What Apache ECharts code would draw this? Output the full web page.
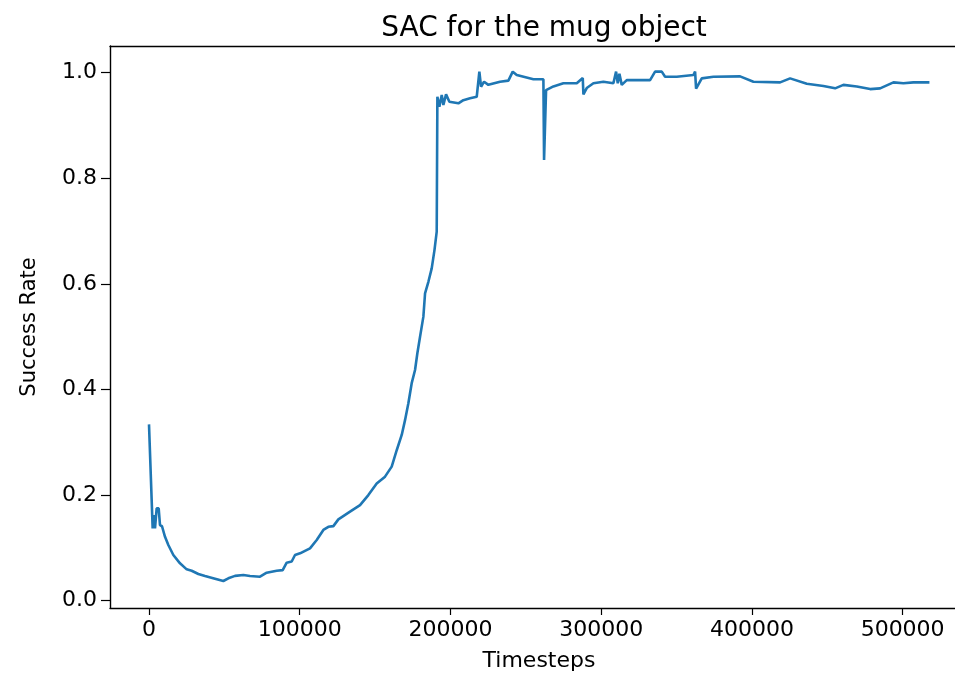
<!DOCTYPE html>
<html>
<head>
<meta charset="utf-8">
<title>SAC for the mug object</title>
<script src="https://cdn.jsdelivr.net/npm/echarts@6/dist/echarts.min.js"></script>
<style>
  html, body { margin: 0; padding: 0; background: #fff; overflow: hidden; }
  /* plot continues past the right edge of the window, like the cropped reference */
  #main { width: 968px; height: 673px; }
</style>
</head>
<body>
<div id="main"></div>
<script>
// timesteps (x) and success rate (y)
var timesteps = [
  0, 2430, 3540, 3980, 5090, 6420, 7300, 8630, 10620, 12830,
  16150, 20570, 25000, 28310, 32740, 37160, 43800, 49320, 52640, 57070,
  62600, 67020, 73660, 78080, 84720, 88700, 91350, 94680, 96880, 100200,
  106830, 111270, 115680, 119000, 122320, 125640, 133380, 140010, 145540, 151070,
  156600, 161030, 164350, 167670, 169870, 172080, 174290, 176510, 178050, 179830,
  182040, 183150, 185360, 187570, 189400, 190890, 191330, 192650, 194220, 195310,
  197080, 199290, 205270, 208560, 213000, 217440, 219180, 220300, 222300, 225160,
  232910, 238440, 241320, 243990, 255030, 261660, 262110, 263440, 268300, 274930,
  283800, 287780, 288220, 290430, 294850, 301480, 308110, 309890, 311000, 312100,
  313650, 316970, 332450, 335770, 340200, 342400, 350150, 361180, 362310, 362970,
  366740, 374460, 392170, 401000, 418710, 425350, 436430, 447450, 455210, 460720,
  469610, 478430, 485070, 493900, 500530, 507170, 517780
];
var successRate = [
  0.334, 0.137, 0.162, 0.137, 0.175, 0.175, 0.143, 0.141, 0.121, 0.1055,
  0.0866, 0.0708, 0.0594, 0.0568, 0.0506, 0.0468, 0.0417, 0.0373, 0.0424, 0.047,
  0.0487, 0.0468, 0.0455, 0.053, 0.0568, 0.058, 0.072, 0.0742, 0.0866, 0.0898,
  0.0992, 0.115, 0.134, 0.140, 0.1413, 0.154, 0.1686, 0.181, 0.200, 0.222,
  0.235, 0.254, 0.285, 0.314, 0.342, 0.374, 0.412, 0.437, 0.4686, 0.500,
  0.538, 0.582, 0.604, 0.6295, 0.664, 0.699, 0.9545, 0.9356, 0.958, 0.939,
  0.959, 0.945, 0.942, 0.948, 0.9515, 0.9545, 1.002, 0.9735, 0.983, 0.977,
  0.983, 0.985, 1.002, 0.9956, 0.9875, 0.9875, 0.8347, 0.967, 0.974, 0.980,
  0.980, 0.990, 0.959, 0.971, 0.980, 0.983, 0.980, 1.002, 0.980, 0.998,
  0.977, 0.986, 0.986, 1.002, 1.002, 0.9924, 0.9924, 0.9956, 1.002, 0.970,
  0.9893, 0.9924, 0.993, 0.983, 0.9817, 0.9893, 0.979, 0.975, 0.9704, 0.977,
  0.974, 0.969, 0.9704, 0.9817, 0.980, 0.9817, 0.9817
];
var xTicks = [0, 100000, 200000, 300000, 400000, 500000];
var yTicks = [0, 0.2, 0.4, 0.6, 0.8, 1.0];

var points = timesteps.map(function (t, i) { return [t, successRate[i]]; });

var font = "DejaVu Sans";
var xMin = -25875, xMax = 543375;
var chart = echarts.init(document.getElementById("main"));
chart.setOption({
  animation: false,
  textStyle: { fontFamily: font, color: "#000" },
  title: {
    text: "SAC for the mug object",
    left: 539,
    textAlign: "center",
    top: 10,
    textStyle: { fontFamily: font, fontSize: 28, fontWeight: "normal", color: "#000" }
  },
  grid: {
    left: 110,
    right: 0,
    top: 46,
    bottom: 65,
    outerBoundsMode: "none",
    containLabel: false
  },
  xAxis: [
    {
      type: "value",
      min: xMin,
      max: xMax,
      name: "Timesteps",
      nameLocation: "middle",
      nameGap: 42,
      nameTextStyle: { fontFamily: font, fontSize: 22, color: "#000" },
      axisLine: { show: true, onZero: false, lineStyle: { color: "#000", width: 1.4 } },
      axisTick: { show: true, length: 7, customValues: xTicks, lineStyle: { color: "#000", width: 1.2 } },
      axisLabel: {
        customValues: xTicks,
        margin: 11,
        fontFamily: font,
        fontSize: 22,
        color: "#000",
        formatter: function (v) { return String(v); }
      },
      splitLine: { show: false }
    },
    {
      // top spine only
      type: "value",
      position: "top",
      min: xMin,
      max: xMax,
      axisLine: { show: true, onZero: false, lineStyle: { color: "#000", width: 1.4 } },
      axisTick: { show: false },
      axisLabel: { show: false },
      splitLine: { show: false }
    }
  ],
  yAxis: {
    type: "value",
    min: -0.0138,
    max: 1.0506,
    name: "Success Rate",
    nameLocation: "middle",
    nameGap: 70,
    nameRotate: 90,
    nameTextStyle: { fontFamily: font, fontSize: 21, color: "#000" },
    axisLine: { show: true, onZero: false, lineStyle: { color: "#000", width: 1.4 } },
    axisTick: { show: true, length: 9, customValues: yTicks, lineStyle: { color: "#000", width: 1.2 } },
    axisLabel: {
      customValues: yTicks,
      margin: 13,
      fontFamily: font,
      fontSize: 22,
      color: "#000",
      formatter: function (v) { return v.toFixed(1); }
    },
    splitLine: { show: false }
  },
  series: [
    {
      type: "line",
      data: points,
      showSymbol: false,
      symbol: "none",
      lineStyle: { color: "#1f77b4", width: 2.6 },
      itemStyle: { color: "#1f77b4" }
    }
  ]
});
</script>
</body>
</html>
